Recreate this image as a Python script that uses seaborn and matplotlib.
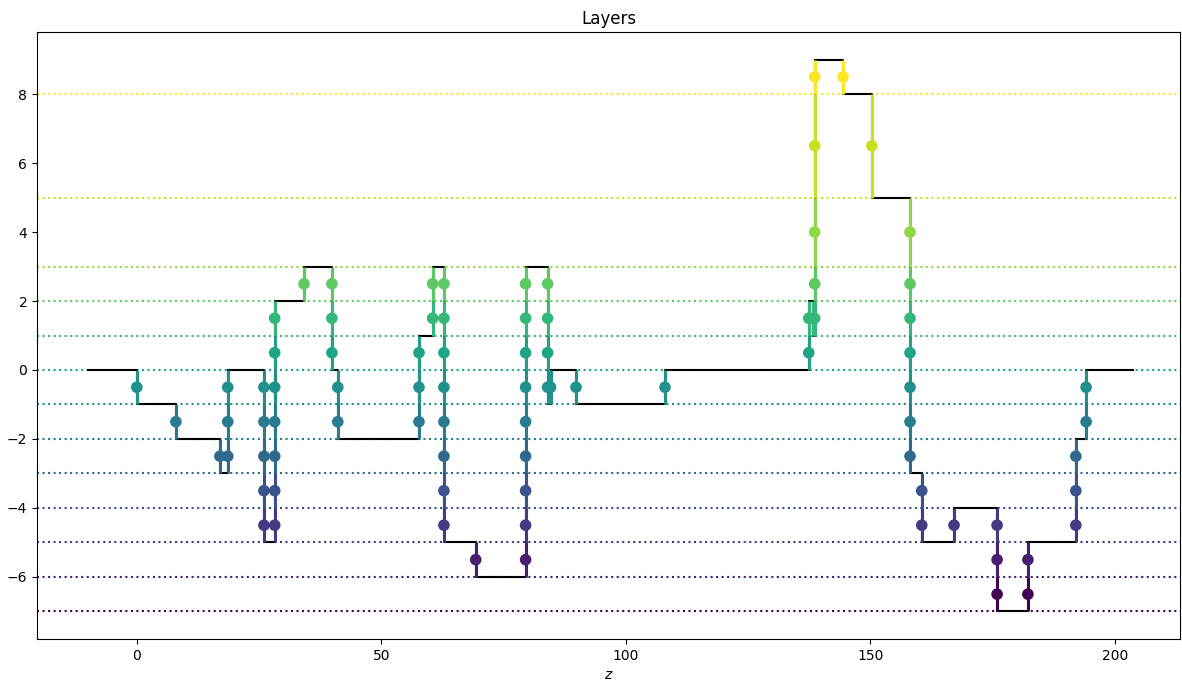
import numpy as np
import pandas as pd
import matplotlib
matplotlib.use("Agg")
import matplotlib.pyplot as plt
from matplotlib.collections import LineCollection
import seaborn as sns

# ---- data ----
# layer boundaries (dotted lines drawn at all but the top one)
boundaries = [-7, -6, -5, -4, -3, -2, -1, 0, 1, 2, 3, 5, 8, 9]
# positions where the step profile changes level, and the level after each change
z_breaks = [-10, 0, 8, 17, 18.6, 26, 28.2, 34.2, 39.9, 41.1, 57.7, 60.5, 62.8,
            69.3, 79.5, 84.0, 84.6, 89.8, 108.0, 137.4, 138.2, 138.6, 144.4,
            150.3, 158.1, 160.5, 167.1, 175.9, 182.2, 192.0, 194.1, 203.7]
levels = [0, -1, -2, -3, 0, -5, 2, 3, 0, -2, 1, 3, -5, -6, 3, -1, 0, -1, 0,
          2, 1, 9, 8, 5, -3, -5, -4, -7, -5, -2, 0, 0]

n_layers = len(boundaries) - 1
cmap = plt.get_cmap("viridis")
layer_colors = [cmap(k / (n_layers - 1)) for k in range(n_layers)]
midpoints = [(boundaries[k] + boundaries[k + 1]) / 2 for k in range(n_layers)]

# build vertical segments and points at each transition
segs, seg_cols, pts = [], [], []
for i in range(1, len(z_breaks) - 1):
    z = z_breaks[i]
    a, b = levels[i - 1], levels[i]
    lo, hi = min(a, b), max(a, b)
    for k in range(n_layers):
        if boundaries[k] >= lo and boundaries[k + 1] <= hi:
            segs.append([(z, boundaries[k]), (z, boundaries[k + 1])])
            seg_cols.append(layer_colors[k])
            pts.append((z, midpoints[k], k))
pts_df = pd.DataFrame(pts, columns=["z", "y", "layer"])
step_df = pd.DataFrame({"z": z_breaks, "level": levels})

fig = plt.figure(figsize=(11.82, 6.81), dpi=100)
ax = fig.add_axes([37 / 1182, 1 - 639 / 681, (1180 - 37) / 1182, (639 - 32) / 681])

for k, yb in enumerate(boundaries[:-1]):
    ax.axhline(yb, color=layer_colors[k], ls=":", lw=1.5, zorder=1)

sns.lineplot(data=step_df, x="z", y="level", drawstyle="steps-post",
             color="black", lw=1.5, ax=ax, zorder=2, estimator=None, sort=False)

lc = LineCollection(segs, colors=seg_cols, linewidths=2.2, zorder=3)
ax.add_collection(lc)

sns.scatterplot(data=pts_df, x="z", y="y", hue="layer", palette="viridis",
                hue_norm=(0, n_layers - 1), s=70, edgecolor="none",
                legend=False, ax=ax, zorder=4)

ax.set_xlim(-20.4, 213.3)
ax.set_ylim(-7.8, 9.8)
ax.set_title("Layers")
ax.set_xlabel("$z$")
ax.set_ylabel("")
ax.set_xticks([0, 50, 100, 150, 200])
ax.set_yticks([-6, -4, -2, 0, 2, 4, 6, 8])

fig.savefig("out.png", dpi=100)
